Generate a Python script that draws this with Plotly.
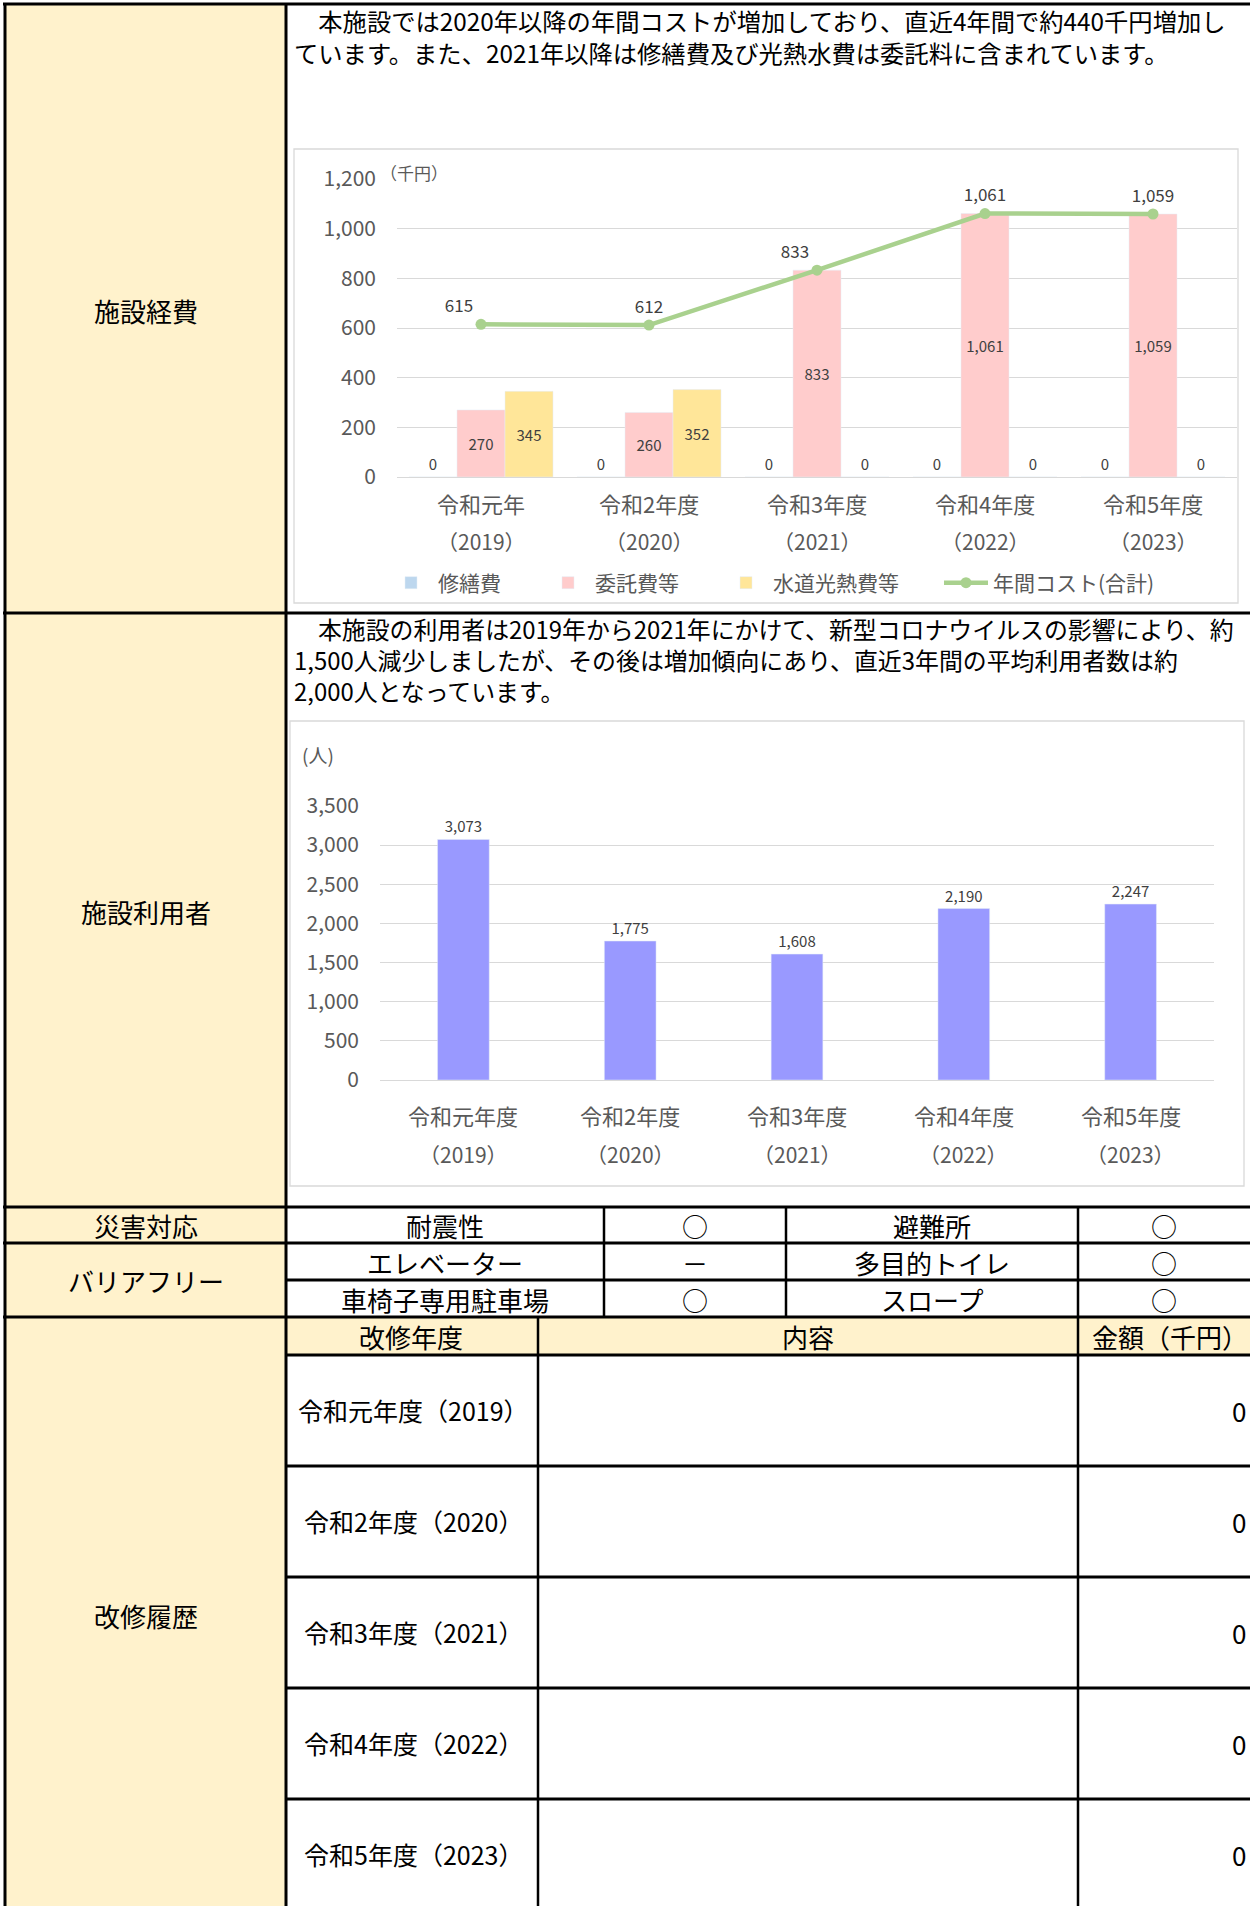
import plotly.graph_objects as go

W, H = 1250, 1906
OFF = 0  # body margin removed via post_script


def px(x):
    return (x - OFF) / W


def py(y):
    return 1 - (y - OFF) / H


# ---------------- data ----------------
cost_categories = ["令和元年", "令和2年度", "令和3年度", "令和4年度", "令和5年度"]
cost_years = ["（2019）", "（2020）", "（2021）", "（2022）", "（2023）"]
repair_cost = [0, 0, 0, 0, 0]
consign_cost = [270, 260, 833, 1061, 1059]
utility_cost = [345, 352, 0, 0, 0]
total_cost = [615, 612, 833, 1061, 1059]
total_label_pos = ["top left", "top center", "top left", "top center", "top center"]

user_categories = ["令和元年度", "令和2年度", "令和3年度", "令和4年度", "令和5年度"]
user_years = ["（2019）", "（2020）", "（2021）", "（2022）", "（2023）"]
users = [3073, 1775, 1608, 2190, 2247]

repair_years = ["令和元年度（2019）", "令和2年度（2020）", "令和3年度（2021）", "令和4年度（2022）", "令和5年度（2023）"]
repair_amounts = [0, 0, 0, 0, 0]

text_cost = ("　本施設では2020年以降の年間コストが増加しており、直近4年間で約440千円増加し<br>"
             "ています。また、2021年以降は修繕費及び光熱水費は委託料に含まれています。")
text_users = ("　本施設の利用者は2019年から2021年にかけて、新型コロナウイルスの影響により、約<br>"
              "1,500人減少しましたが、その後は増加傾向にあり、直近3年間の平均利用者数は約<br>"
              "2,000人となっています。")

FONT = "Noto Sans CJK JP"
GRAY = "#595959"
LBL = "#404040"
YELLOW_BG = "#FFF2CC"

fig = go.Figure()


def tpos(vals):
    return ["inside" if v > 0 else "outside" for v in vals]


def fmt(vals):
    return [f"{v:,}" for v in vals]


bar_common = dict(xaxis="x", yaxis="y", insidetextanchor="middle", textangle=0,
                  constraintext="none", cliponaxis=False,
                  textfont=dict(size=15, color=LBL, family=FONT))

fig.add_trace(go.Bar(x=cost_categories, y=repair_cost, name="修繕費", marker_color="#BDD7EE",
                     text=fmt(repair_cost), textposition=tpos(repair_cost), legendwidth=98,
                     **bar_common))
fig.add_trace(go.Bar(x=cost_categories, y=consign_cost, name="委託費等", marker_color="#FFCCCC",
                     text=fmt(consign_cost), textposition=tpos(consign_cost), legendwidth=119,
                     **bar_common))
fig.add_trace(go.Bar(x=cost_categories, y=utility_cost, name="水道光熱費等", marker_color="#FFE699",
                     text=fmt(utility_cost), textposition=tpos(utility_cost), legendwidth=161,
                     **bar_common))
fig.add_trace(go.Scatter(x=cost_categories, y=total_cost, name="年間コスト(合計)", xaxis="x", yaxis="y",
                         mode="lines+markers+text", line=dict(color="#A9D18E", width=4.5),
                         marker=dict(size=11, color="#A9D18E"), cliponaxis=False,
                         text=fmt(total_cost), textposition=total_label_pos,
                         textfont=dict(size=17, color=LBL, family=FONT)))

fig.add_trace(go.Bar(x=user_categories, y=users, xaxis="x2", yaxis="y2", width=0.31,
                     marker_color="#9999FF", showlegend=False, text=fmt(users),
                     textposition="outside", textangle=0, constraintext="none", cliponaxis=False,
                     textfont=dict(size=15, color=LBL, family=FONT)))

shapes = []


def rect(x0, y0, x1, y1, fill=None, line=None, lw=0, layer="below"):
    shapes.append(dict(type="rect", xref="paper", yref="paper", x0=px(x0), x1=px(x1),
                       y0=py(y1), y1=py(y0), fillcolor=fill or "rgba(0,0,0,0)",
                       line=dict(color=line or "rgba(0,0,0,0)", width=lw), layer=layer))


def hline(y, x0, x1, w=3):
    shapes.append(dict(type="line", xref="paper", yref="paper", x0=px(x0), x1=px(x1),
                       y0=py(y), y1=py(y), line=dict(color="black", width=w), layer="above"))


def vline(x, y0, y1, w=3):
    shapes.append(dict(type="line", xref="paper", yref="paper", x0=px(x), x1=px(x),
                       y0=py(y0), y1=py(y1), line=dict(color="black", width=w), layer="above"))


# fills
rect(5, 5, 286, 1920, fill=YELLOW_BG)
rect(286, 1317, 1265, 1355, fill=YELLOW_BG)
# chart boxes
rect(294, 149, 1238, 603, line="#D9D9D9", lw=1.3)
rect(290, 721, 1244, 1186, line="#D9D9D9", lw=1.3)

# table lines
hline(4, 3, 1265)
for y in (613, 1207, 1243, 1317):
    hline(y, 3, 1265)
for y in (1280, 1355, 1466, 1577, 1688, 1799):
    hline(y, 286, 1265)
vline(5, 3, 1920)
vline(286, 3, 1920)
vline(604, 1207, 1317, 2.5)
vline(786, 1207, 1317, 2.5)
vline(1078, 1207, 1920, 2.5)
vline(538, 1317, 1920, 2.5)

annotations = []


def txt(x, y, s, size=26, color="black", xanchor="center", yanchor="middle", align="center",
        xref="paper", yref="paper"):
    annotations.append(dict(x=px(x) if xref == "paper" else x, y=py(y), xref=xref, yref=yref,
                            text=s, showarrow=False, xanchor=xanchor, yanchor=yanchor, align=align,
                            font=dict(size=size, color=color, family=FONT)))


# paragraphs
txt(292, 1, text_cost, size=24.3, xanchor="left", yanchor="top", align="left")
txt(292, 609, text_users, size=23.9, xanchor="left", yanchor="top", align="left")

# left labels
for label, y in [("施設経費", 311), ("施設利用者", 911), ("災害対応", 1225),
                 ("バリアフリー", 1280), ("改修履歴", 1615)]:
    txt(146, y, label)

# disaster / barrier-free cells
cells = [
    ("耐震性", "○", "避難所", "○", 1225),
    ("エレベーター", "－", "多目的トイレ", "○", 1262),
    ("車椅子専用駐車場", "○", "スロープ", "○", 1299),
]
for a, b, c, d, y in cells:
    txt(445, y, a)
    txt(695, y, b)
    txt(932, y, c)
    txt(1164, y, d)

# repair table
txt(411, 1336, "改修年度")
txt(808, 1336, "内容")
txt(1170, 1336, "金額（千円）")
for i, (ry, amt) in enumerate(zip(repair_years, repair_amounts)):
    yc = 1410 + i * 111
    txt(413, yc, ry, size=25)
    txt(1248, yc, f"{amt:,}", xanchor="right")

# unit labels
txt(378, 172, "（千円）", size=17, color=GRAY, xanchor="left")
txt(300, 754, "(人)", size=19, color=GRAY, xanchor="left")

# category labels (two lines, placed on the category axes)
for cat, yr in zip(cost_categories, cost_years):
    txt(cat, 503, cat, size=22, color=GRAY, xref="x")
    txt(cat, 541, yr, size=21, color=GRAY, xref="x")
for cat, yr in zip(user_categories, user_years):
    txt(cat, 1115, cat, size=22, color=GRAY, xref="x2")
    txt(cat, 1154, yr, size=21, color=GRAY, xref="x2")

axis_common_x = dict(showticklabels=False, showgrid=False, showline=True, linecolor="#D9D9D9",
                     linewidth=1.3, ticks="", zeroline=False, fixedrange=True)
axis_common_y = dict(tickformat=",", gridcolor="#D9D9D9", gridwidth=1.3, zeroline=False,
                     showline=False, ticks="", ticklabelstandoff=20,
                     tickfont=dict(size=21, color=GRAY, family=FONT))

fig.update_layout(
    width=W, height=H, autosize=False,
    margin=dict(l=0, r=0, t=0, b=0, autoexpand=False),
    paper_bgcolor="white", plot_bgcolor="rgba(0,0,0,0)",
    font=dict(family=FONT),
    barmode="group", bargap=0.143, bargroupgap=0,
    xaxis=dict(domain=[px(397), px(1237)], anchor="y", **axis_common_x),
    yaxis=dict(domain=[py(477), py(179)], range=[0, 1200], dtick=200, anchor="x", **axis_common_y),
    xaxis2=dict(domain=[px(380), px(1214)], anchor="y2", **axis_common_x),
    yaxis2=dict(domain=[py(1080), py(806)], range=[0, 3500], dtick=500, anchor="x2", **axis_common_y),
    legend=dict(orientation="h", x=px(384), y=py(583), xanchor="left", yanchor="middle",
                font=dict(size=21, color=GRAY, family=FONT), bgcolor="rgba(0,0,0,0)",
                traceorder="normal", itemwidth=44),
    shapes=shapes,
    annotations=annotations,
)

fig.write_html("out.html", config={"displayModeBar": False},
               post_script="document.body.style.margin='0px';")
